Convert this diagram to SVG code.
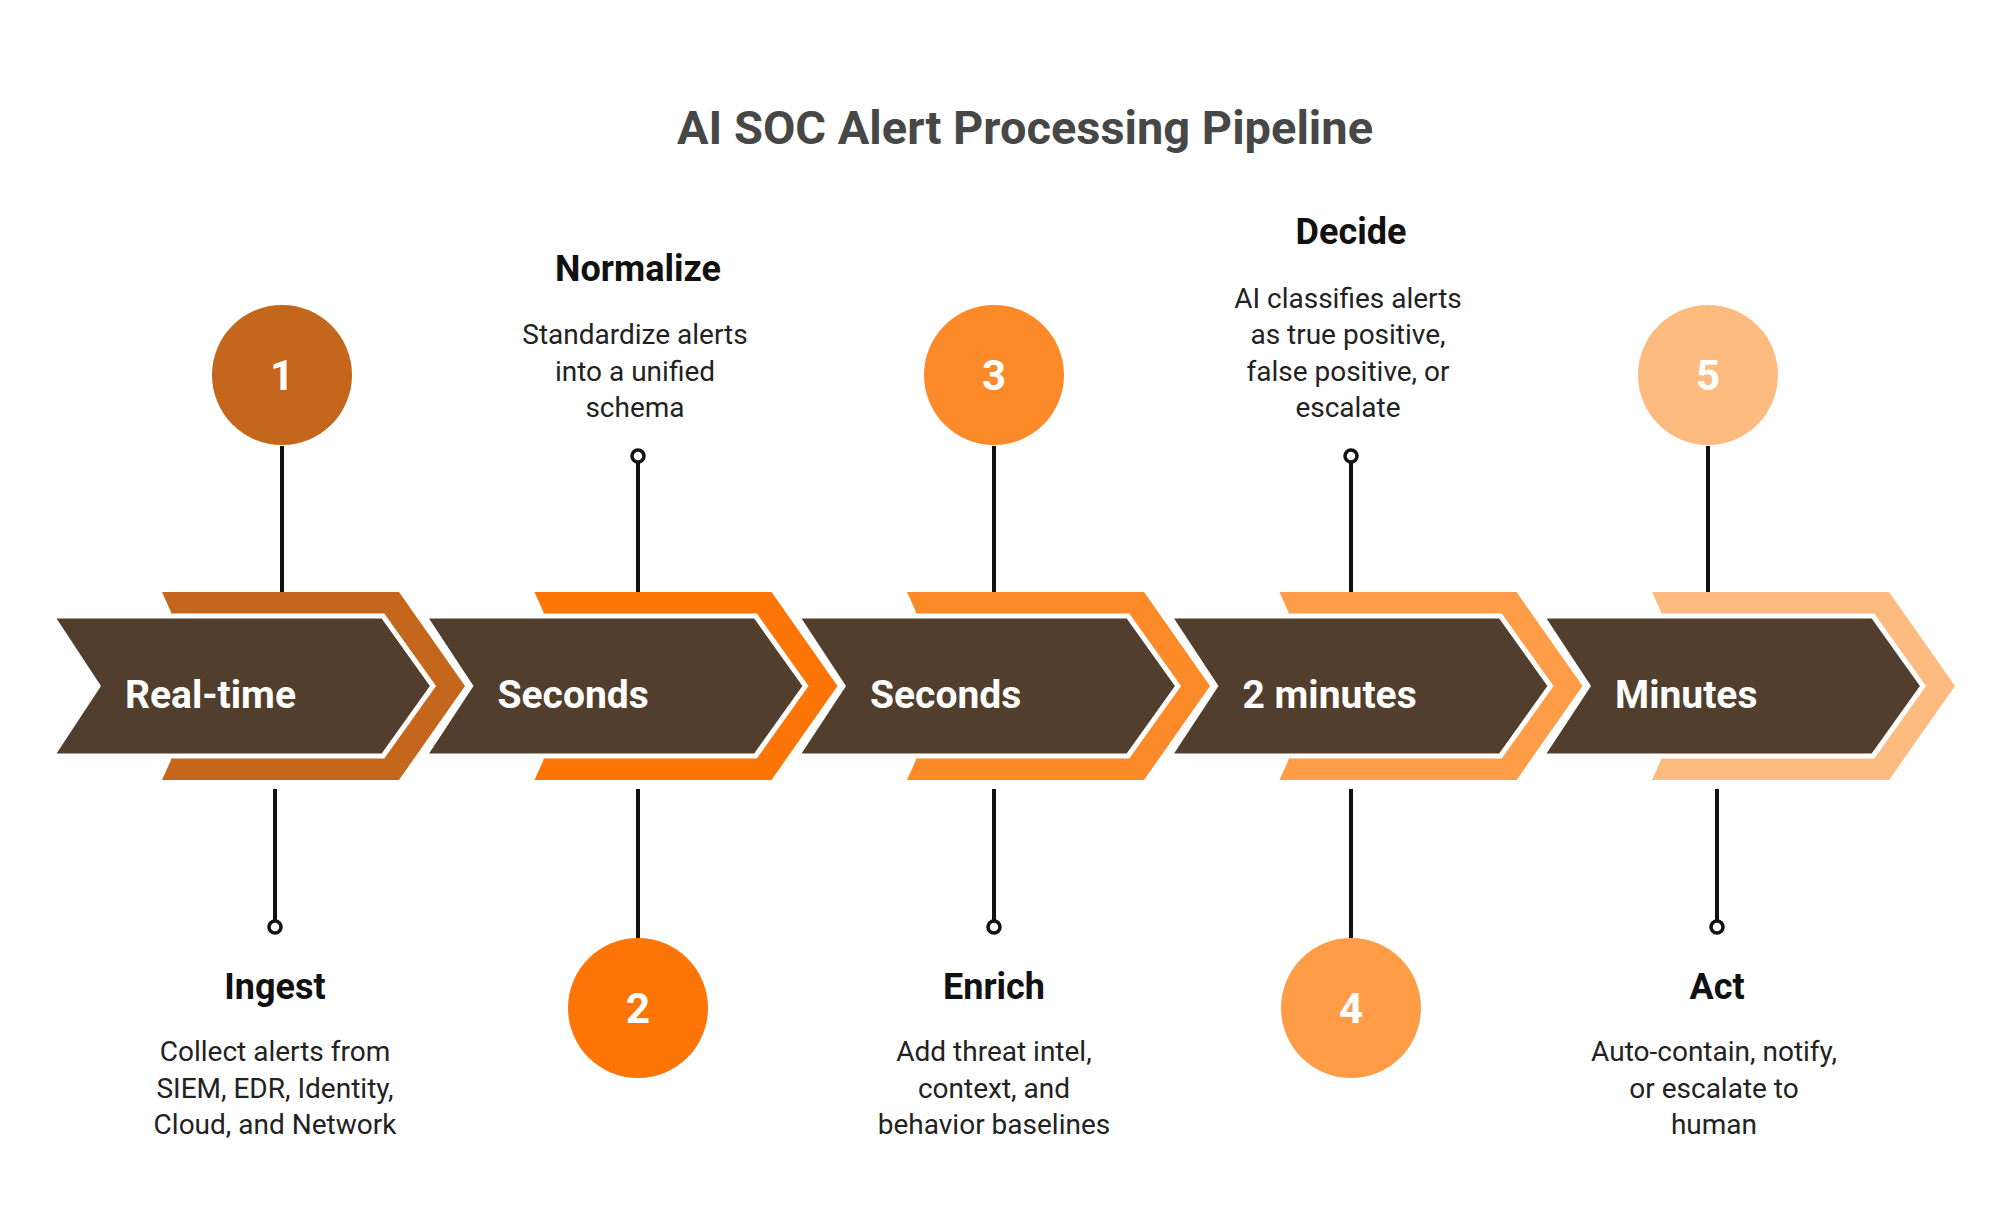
<svg xmlns="http://www.w3.org/2000/svg" width="2016" height="1226" viewBox="0 0 2016 1226">
<style>
.t{font-family:Roboto,"Liberation Sans",sans-serif}
.title{font-size:47px;font-weight:700;fill:#474747;text-anchor:middle}
.band{fill:#523e2d;stroke:#fff;stroke-width:5;stroke-linejoin:miter}
.bl{font-size:39px;font-weight:700;fill:#fff}
.num{font-size:42px;font-weight:700;fill:#fff;text-anchor:middle}
.h{font-size:36px;font-weight:700;fill:#111;text-anchor:middle}
.d{font-size:28px;fill:#222;text-anchor:middle}
.ln{stroke:#111;stroke-width:4;fill:none}
.dot{fill:#fff;stroke:#111;stroke-width:3.5}
</style>
<rect width="2016" height="1226" fill="#fff"/>
<text class="t title" x="1025" y="144">AI SOC Alert Processing Pipeline</text>
<g id="connectors">
<line class="ln" x1="282" y1="446" x2="282" y2="594"/>
<line class="ln" x1="275" y1="789" x2="275" y2="921"/>
<circle class="dot" cx="275" cy="927" r="6"/>
<line class="ln" x1="638" y1="462" x2="638" y2="594"/>
<circle class="dot" cx="638" cy="456" r="6"/>
<line class="ln" x1="638" y1="789" x2="638" y2="938"/>
<line class="ln" x1="994" y1="446" x2="994" y2="594"/>
<line class="ln" x1="994" y1="789" x2="994" y2="921"/>
<circle class="dot" cx="994" cy="927" r="6"/>
<line class="ln" x1="1351" y1="462" x2="1351" y2="594"/>
<circle class="dot" cx="1351" cy="456" r="6"/>
<line class="ln" x1="1351" y1="789" x2="1351" y2="938"/>
<line class="ln" x1="1708" y1="446" x2="1708" y2="594"/>
<line class="ln" x1="1717" y1="789" x2="1717" y2="921"/>
<circle class="dot" cx="1717" cy="927" r="6"/>
</g>
<g id="band1">
<polygon fill="#c4661c" points="162,592 399,592 465,686 399,780 162,780 171,760 171,612"/>
<polygon class="band" points="52,616 383,616 433,686 383,756 52,756 98,686"/>
<text class="t bl" x="125" y="708">Real-time</text>
</g>
<g id="band2" transform="translate(372.5,0)">
<polygon fill="#fd7506" points="162,592 399,592 465,686 399,780 162,780 171,760 171,612"/>
<polygon class="band" points="52,616 383,616 433,686 383,756 52,756 98,686"/>
<text class="t bl" x="125" y="708">Seconds</text>
</g>
<g id="band3" transform="translate(745,0)">
<polygon fill="#fd8a28" points="162,592 399,592 465,686 399,780 162,780 171,760 171,612"/>
<polygon class="band" points="52,616 383,616 433,686 383,756 52,756 98,686"/>
<text class="t bl" x="125" y="708">Seconds</text>
</g>
<g id="band4" transform="translate(1117.5,0)">
<polygon fill="#fe9c48" points="162,592 399,592 465,686 399,780 162,780 171,760 171,612"/>
<polygon class="band" points="52,616 383,616 433,686 383,756 52,756 98,686"/>
<text class="t bl" x="125" y="708">2 minutes</text>
</g>
<g id="band5" transform="translate(1490,0)">
<polygon fill="#febb80" points="162,592 399,592 465,686 399,780 162,780 171,760 171,612"/>
<polygon class="band" points="52,616 383,616 433,686 383,756 52,756 98,686"/>
<text class="t bl" x="125" y="708">Minutes</text>
</g>
<g id="step1">
<circle cx="282" cy="375" r="70" fill="#c4661c"/>
<text class="t num" x="282" y="390">1</text>
<text class="t h" x="275" y="999">Ingest</text>
<text class="t d" x="275" y="1061">Collect alerts from</text>
<text class="t d" x="275" y="1098">SIEM, EDR, Identity,</text>
<text class="t d" x="275" y="1134">Cloud, and Network</text>
</g>
<g id="step2">
<circle cx="638" cy="1008" r="70" fill="#fd7506"/>
<text class="t num" x="638" y="1023">2</text>
<text class="t h" x="638" y="281">Normalize</text>
<text class="t d" x="635" y="344">Standardize alerts</text>
<text class="t d" x="635" y="381">into a unified</text>
<text class="t d" x="635" y="417">schema</text>
</g>
<g id="step3">
<circle cx="994" cy="375" r="70" fill="#fd8a28"/>
<text class="t num" x="994" y="390">3</text>
<text class="t h" x="994" y="999">Enrich</text>
<text class="t d" x="994" y="1061">Add threat intel,</text>
<text class="t d" x="994" y="1098">context, and</text>
<text class="t d" x="994" y="1134">behavior baselines</text>
</g>
<g id="step4">
<circle cx="1351" cy="1008" r="70" fill="#fe9c48"/>
<text class="t num" x="1351" y="1023">4</text>
<text class="t h" x="1351" y="244">Decide</text>
<text class="t d" x="1348" y="308">AI classifies alerts</text>
<text class="t d" x="1348" y="344">as true positive,</text>
<text class="t d" x="1348" y="381">false positive, or</text>
<text class="t d" x="1348" y="417">escalate</text>
</g>
<g id="step5">
<circle cx="1708" cy="375" r="70" fill="#febb80"/>
<text class="t num" x="1708" y="390">5</text>
<text class="t h" x="1717" y="999">Act</text>
<text class="t d" x="1714" y="1061">Auto-contain, notify,</text>
<text class="t d" x="1714" y="1098">or escalate to</text>
<text class="t d" x="1714" y="1134">human</text>
</g>
</svg>
